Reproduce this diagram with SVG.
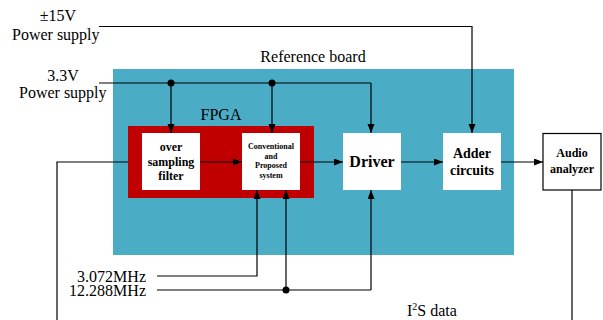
<svg xmlns="http://www.w3.org/2000/svg" width="603" height="320" viewBox="0 0 603 320">
<defs>
<marker id="ah" markerUnits="userSpaceOnUse" markerWidth="9" markerHeight="8" refX="9" refY="3.5" orient="auto">
<path d="M0,0 L9,3.5 L0,7 z" fill="#000"/>
</marker>
<style>
.t{font-family:"Liberation Serif","Times New Roman",serif;font-size:16px;fill:#000}
.b{font-family:"Liberation Serif","Times New Roman",serif;font-weight:bold;fill:#000;text-anchor:middle}
.ln{fill:none;stroke:#000;stroke-width:1.2}
.ar{fill:none;stroke:#000;stroke-width:1.2;marker-end:url(#ah)}
.box{fill:#fff}
</style>
</defs>
<rect id="board" x="113" y="69" width="401" height="186" fill="#4BACC6"/>
<text class="t" x="313" y="62" text-anchor="middle">Reference board</text>
<g id="fpga">
<rect x="128" y="126" width="186" height="72" fill="#C00000"/>
<text class="t" x="221" y="120" text-anchor="middle">FPGA</text>
</g>
<g id="connectors">
<polyline class="ar" points="99,26.5 472,26.5 472,133"/>
<line class="ln" x1="99" y1="83" x2="371" y2="83"/>
<line class="ar" x1="171" y1="83" x2="171" y2="133"/>
<line class="ar" x1="272" y1="83" x2="272" y2="133"/>
<line class="ar" x1="371" y1="83" x2="371" y2="133"/>
<circle cx="171" cy="83" r="3.5" fill="#000"/>
<circle cx="272" cy="83" r="3.5" fill="#000"/>
<polyline class="ln" points="128,162 57,162 57,320"/>
<line class="ar" x1="200" y1="162" x2="242" y2="162"/>
<line class="ar" x1="300" y1="162" x2="343" y2="162"/>
<line class="ar" x1="401" y1="162" x2="443" y2="162"/>
<line class="ar" x1="501" y1="162" x2="543" y2="162"/>
<line class="ln" x1="572" y1="190" x2="572" y2="320"/>
<polyline class="ar" points="157,276 257,276 257,190"/>
<polyline class="ln" points="157,290 371,290"/>
<line class="ar" x1="286" y1="290" x2="286" y2="190"/>
<line class="ar" x1="371" y1="290" x2="371" y2="190"/>
<circle cx="286" cy="290" r="3.5" fill="#000"/>
</g>
<g id="filter">
<rect class="box" x="142" y="133" width="58" height="57"/>
<text class="b" font-size="12" x="171" y="151">over</text>
<text class="b" font-size="12" x="171" y="166">sampling</text>
<text class="b" font-size="12" x="171" y="180">filter</text>
</g>
<g id="system">
<rect class="box" x="242" y="133" width="58" height="57"/>
<text class="b" font-size="8" x="271" y="148.5">Conventional</text>
<text class="b" font-size="8" x="271" y="158.5">and</text>
<text class="b" font-size="8" x="271" y="168">Proposed</text>
<text class="b" font-size="8" x="271" y="177.5">system</text>
</g>
<g id="driver">
<rect class="box" x="343" y="133" width="58" height="57"/>
<text class="b" font-size="16" x="372" y="167">Driver</text>
</g>
<g id="adder">
<rect class="box" x="443" y="133" width="58" height="57"/>
<text class="b" font-size="14" x="472" y="158">Adder</text>
<text class="b" font-size="14" x="472" y="174.5">circuits</text>
</g>
<g id="analyzer">
<rect x="543" y="133.5" width="58" height="56.5" fill="#fff" stroke="#000" stroke-width="1.2"/>
<text class="b" font-size="12" x="572" y="157">Audio</text>
<text class="b" font-size="12" x="572" y="173">analyzer</text>
</g>
<g id="labels">
<text class="t" x="58" y="21" text-anchor="middle">±15V</text>
<text class="t" x="12" y="40">Power supply</text>
<text class="t" x="63" y="81" text-anchor="middle">3.3V</text>
<text class="t" x="19" y="98">Power supply</text>
<text class="t" x="146" y="282" text-anchor="end">3.072MHz</text>
<text class="t" x="146" y="296" text-anchor="end">12.288MHz</text>
<text class="t" x="407" y="316">I<tspan font-size="10" dy="-6">2</tspan><tspan dy="6">S data</tspan></text>
</g>
</svg>
